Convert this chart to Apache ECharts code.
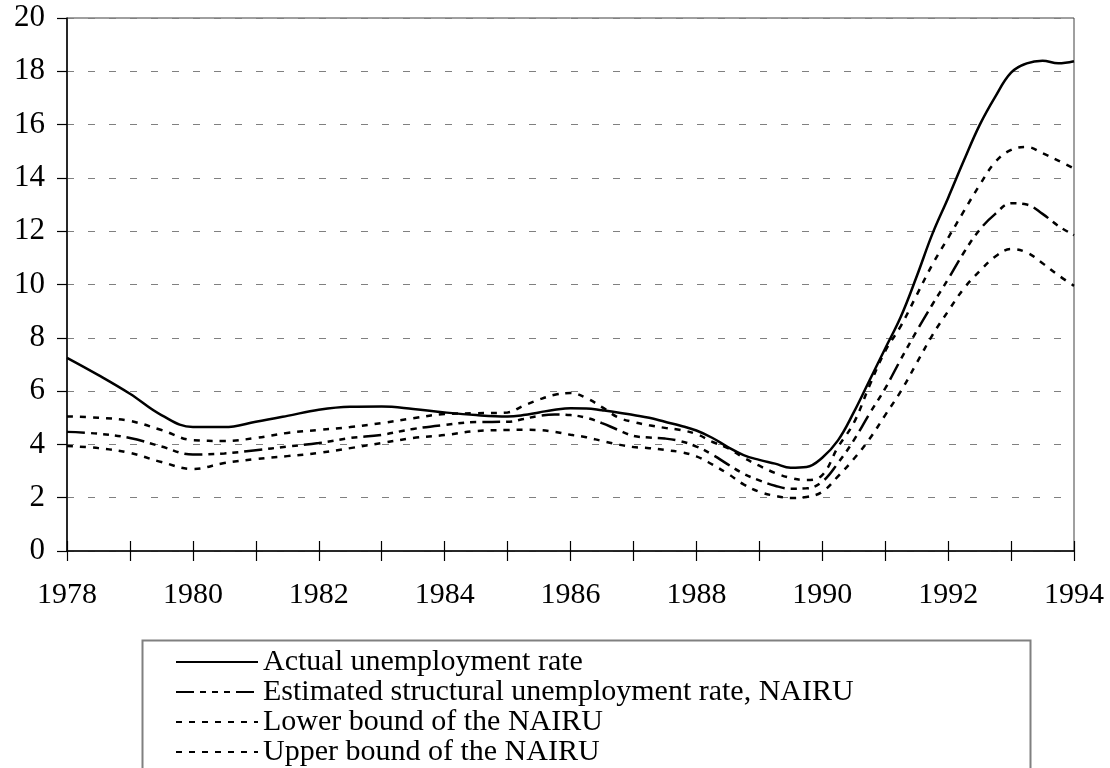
<!DOCTYPE html>
<html>
<head>
<meta charset="utf-8">
<script src="https://cdn.jsdelivr.net/npm/echarts@6/dist/echarts.min.js"></script>
<style>
  html, body { margin: 0; padding: 0; background: #fff; }
  #chart { width: 1110px; height: 768px; }
</style>
</head>
<body>
<div id="chart"></div>
<script>
// Time periods (years; half-yearly to 1985, quarterly afterwards)
const periods = [1978, 1978.5, 1979, 1979.5, 1980, 1980.5, 1981, 1981.5, 1982, 1982.5, 1983, 1983.5, 1984, 1984.5, 1985,
  1985.25, 1985.5, 1985.75, 1986, 1986.25, 1986.5, 1986.75, 1987, 1987.25, 1987.5, 1987.75, 1988,
  1988.25, 1988.5, 1988.75, 1989, 1989.25, 1989.5, 1989.75, 1990, 1990.25, 1990.5, 1990.75, 1991,
  1991.25, 1991.5, 1991.75, 1992, 1992.25, 1992.5, 1992.75, 1993, 1993.25, 1993.5, 1993.75, 1994];

const actualRate = [7.25, 6.6, 5.9, 5.1, 4.65, 4.65, 4.85, 5.07, 5.3, 5.41, 5.42, 5.33, 5.2, 5.1, 5.05,
  5.1, 5.2, 5.3, 5.36, 5.35, 5.28, 5.2, 5.1, 5.0, 4.85, 4.7, 4.52, 4.25, 3.9, 3.6, 3.42, 3.28, 3.12, 3.15, 3.5,
  4.15, 5.2, 6.4, 7.6, 8.8, 10.3, 11.9, 13.25, 14.65, 15.98, 17.05, 17.95, 18.3, 18.4, 18.3, 18.38];

const nairu = [4.47, 4.4, 4.24, 3.92, 3.62, 3.66, 3.78, 3.92, 4.05, 4.24, 4.36, 4.58, 4.73, 4.84, 4.85,
  4.95, 5.07, 5.12, 5.1, 5.0, 4.8, 4.55, 4.32, 4.26, 4.22, 4.12, 3.92, 3.62, 3.25, 2.9, 2.65, 2.45, 2.34, 2.35, 2.6,
  3.3, 4.15, 5.15, 6.1, 7.2, 8.25, 9.25, 10.2, 11.2, 12.05, 12.65, 13.05, 13.0, 12.65, 12.2, 11.85];

const lowerBound = [3.94, 3.86, 3.68, 3.34, 3.08, 3.3, 3.45, 3.56, 3.68, 3.86, 4.05, 4.24, 4.35, 4.5, 4.54,
  4.55, 4.54, 4.47, 4.36, 4.27, 4.13, 4.0, 3.9, 3.86, 3.79, 3.71, 3.55, 3.25, 2.9, 2.5, 2.22, 2.07, 1.99, 2.03, 2.22,
  2.8, 3.45, 4.2, 5.1, 6.0, 7.05, 8.1, 9.0, 9.85, 10.5, 11.05, 11.33, 11.2, 10.8, 10.35, 9.95];

const upperBound = [5.05, 5.0, 4.88, 4.54, 4.16, 4.13, 4.24, 4.43, 4.54, 4.65, 4.8, 4.98, 5.14, 5.17, 5.2,
  5.45, 5.68, 5.86, 5.93, 5.74, 5.4, 5.02, 4.84, 4.72, 4.62, 4.54, 4.39, 4.1, 3.86, 3.5, 3.2, 2.93, 2.74, 2.66, 2.85,
  3.9, 4.8, 6.2, 7.5, 8.45, 9.6, 10.75, 11.75, 12.75, 13.73, 14.6, 15.05, 15.16, 14.93, 14.65, 14.35];

const seriesNames = [
  'Actual unemployment rate',
  'Estimated structural unemployment rate, NAIRU',
  'Lower bound of the NAIRU',
  'Upper bound of the NAIRU'
];

const pair = arr => periods.map((p, i) => [p, arr[i]]);
const FONT = "'Liberation Serif', 'Times New Roman', serif";

const chart = echarts.init(document.getElementById('chart'), null, { renderer: 'canvas' });

function lineSeries(name, values, dash, width) {
  return {
    name: name,
    type: 'line',
    xAxisIndex: 0,
    data: pair(values),
    smooth: 0.4,
    symbol: 'none',
    lineStyle: { color: '#000', width: width, type: dash },
    itemStyle: { color: '#000' },
    emphasis: { disabled: true },
    animation: false
  };
}

chart.setOption({
  animation: false,
  backgroundColor: '#fff',
  grid: { left: 67, right: 36, top: 18, bottom: 217, show: true, borderColor: '#404040', borderWidth: 1, backgroundColor: 'transparent' },
  xAxis: [{
    type: 'value', min: 1978, max: 1994, interval: 1,
    axisLine: { show: true, lineStyle: { color: '#000', width: 1.5 } },
    axisTick: { show: true, inside: false, length: 10, lineStyle: { color: '#000', width: 1.2 } },
    axisLabel: { fontFamily: FONT, fontSize: 30, color: '#000', margin: 29,
      formatter: v => (v % 2 === 0 ? String(v) : '') },
    splitLine: { show: false }
  }, {
    type: 'value', min: 1978, max: 1994, interval: 1, position: 'bottom',
    axisLine: { show: false },
    axisTick: { show: true, inside: true, length: 10, lineStyle: { color: '#000', width: 1.2 } },
    axisLabel: { show: false },
    splitLine: { show: false }
  }],
  yAxis: {
    type: 'value', min: 0, max: 20, interval: 2,
    axisLine: { show: true, lineStyle: { color: '#000', width: 1.5 } },
    axisTick: { show: true, length: 10, lineStyle: { color: '#000', width: 1.2 } },
    axisLabel: { fontFamily: FONT, fontSize: 31, color: '#000', margin: 22 },
    splitLine: { show: true, lineStyle: { color: '#808080', width: 1.2, type: [7, 14] } }
  },
  legend: {
    data: seriesNames,
    orient: 'vertical',
    left: 175, top: 647,
    padding: 0,
    itemWidth: 82, itemHeight: 14, itemGap: 0,
    itemStyle: { opacity: 0, borderWidth: 0 },
    textStyle: { fontFamily: FONT, fontSize: 30, color: '#000', lineHeight: 27 },
    selectedMode: false
  },
  graphic: [{
    type: 'rect', left: 140, top: 638,
    shape: { width: 888, height: 160 },
    style: { fill: 'none', stroke: '#808080', lineWidth: 2 },
    silent: true
  }],
  series: [
    lineSeries(seriesNames[0], actualRate, 'solid', 2.5),
    lineSeries(seriesNames[1], nairu, [18, 6, 6, 6, 6, 6, 6, 6], 2.5),
    lineSeries(seriesNames[2], lowerBound, [6, 7], 2.5),
    lineSeries(seriesNames[3], upperBound, [6, 7], 2.5)
  ]
});
</script>
</body>
</html>
